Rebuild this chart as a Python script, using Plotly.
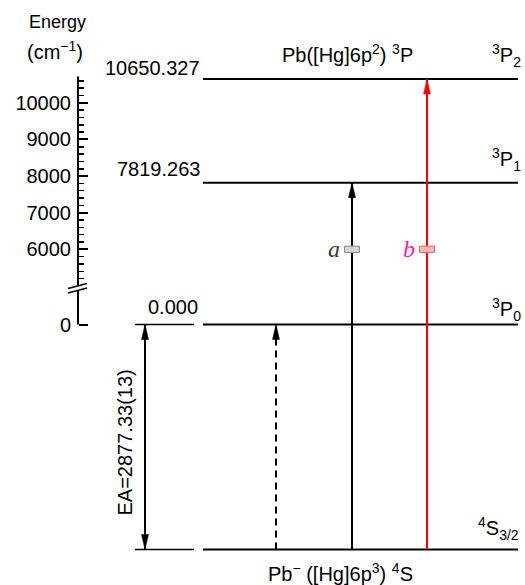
import plotly.graph_objects as go

# ---------------- data ----------------
neutral_energies = [10650.327, 7819.263, 0.000]          # cm^-1, Pb 3P_J levels
neutral_value_labels = ["10650.327", "7819.263", "0.000"]
neutral_terms = ["<sup>3</sup>P<sub>2</sub>", "<sup>3</sup>P<sub>1</sub>", "<sup>3</sup>P<sub>0</sub>"]
anion_energy = -2877.33                                   # Pb- 4S3/2 relative to Pb 3P0
anion_term = "<sup>4</sup>S<sub>3/2</sub>"
ea_label = "EA=2877.33(13)"
neutral_config = "Pb([Hg]6p<sup>2</sup>) <sup>3</sup>P"
anion_config = "Pb<sup>\u2212</sup> ([Hg]6p<sup>3</sup>) <sup>4</sup>S"

axis_major_ticks = [6000, 7000, 8000, 9000, 10000]
axis_major_text = ["6000", "7000", "8000", "9000", "10000"]
axis_minor_ticks = [5200, 5400, 5600, 5800, 6200, 6400, 6600, 6800, 7200, 7400, 7600, 7800,
                    8200, 8400, 8600, 8800, 9200, 9400, 9600, 9800, 10200, 10400, 10600]
lower_ticks = [0]
lower_tick_text = ["0"]

# transitions from the anion ground state
transition_targets = [0.000, 7819.263, 10650.327]
transition_labels = ["", "a", "b"]
break_energy = 6000   # where the a / b break marks sit on the upper scale

# ---------------- layout constants ----------------
W, H = 525, 585
Y_RANGE = [-3163.5, 12807.0]     # upper (broken) scale
Y2_RANGE = [-3331.3, 4149.8]     # lower scale (0 and anion level)
AXIS_X = 78
LEVEL_X = (203, 518)
SHORT_X = (135, 194)
EA_X = 145
TRANS_X = [276, 352, 427]
TRANS_COLORS = ["black", "black", "#ff0000"]
TRANS_DASH = ["7px,5px", "solid", "solid"]
LABEL_COLORS = ["black", "#3a3a3a", "#ff1e96"]
MARK_FILL = ["", "#d4d4d4", "#f6b4b4"]
MARK_LINE = ["", "#8c8c8c", "#e06a6a"]
FONT = "Liberation Sans, Arial, Helvetica, sans-serif"
SERIF = "Liberation Serif, Times New Roman, serif"
UPPER_MIN = 5000


def yref_for(e):
    return "y" if e >= UPPER_MIN else "y2"


def y_to_y2(v):
    f = (v - Y_RANGE[0]) / (Y_RANGE[1] - Y_RANGE[0])
    return Y2_RANGE[0] + f * (Y2_RANGE[1] - Y2_RANGE[0])


def ypx(py):
    return 1 - py / H


fig = go.Figure()
shapes = []
annotations = []


def seg(x0, x1, y0, y1, axis, color="black", width=2, dash="solid"):
    fig.add_trace(go.Scatter(x=[x0, x1], y=[y0, y1], mode="lines",
                             yaxis=axis, hoverinfo="skip",
                             line=dict(color=color, width=width, dash=dash)))


def head(x, y, yref, color, up=True, L=15, hw=3.5):
    s = -1 if up else 1
    shapes.append(dict(type="path", xref="x", yref=yref, xsizemode="pixel", ysizemode="pixel",
                       xanchor=x, yanchor=y,
                       path=f"M0,0 L{-hw},{s*L} L{hw},{s*L} Z",
                       fillcolor=color, line=dict(color=color, width=0.5), layer="above"))


# ---------------- energy levels ----------------
value_shift = [-2, 1, 4.5]
value_right = [202, 202, 200]
term_shift = [7, 6.7, -1.5]
for e, lab, term, vs, vr, ts in zip(neutral_energies, neutral_value_labels, neutral_terms,
                                    value_shift, value_right, term_shift):
    ax = yref_for(e)
    seg(LEVEL_X[0], LEVEL_X[1], e, e, ax)
    if ax == "y2":
        seg(SHORT_X[0], SHORT_X[1], e, e, ax, width=1.6)
    annotations.append(dict(x=vr, y=e, xref="x", yref=ax, text=lab, showarrow=False,
                            xanchor="right", yanchor="bottom", yshift=vs,
                            font=dict(size=20, family=FONT, color="black")))
    annotations.append(dict(x=490, y=e, xref="x", yref=ax, text=term, showarrow=False,
                            xanchor="left", yanchor="bottom", yshift=ts,
                            font=dict(size=20, family=FONT, color="black")))

# anion level
seg(LEVEL_X[0], LEVEL_X[1], anion_energy, anion_energy, "y2")
seg(SHORT_X[0], SHORT_X[1], anion_energy, anion_energy, "y2", width=1.6)
annotations.append(dict(x=476, y=anion_energy, xref="x", yref="y2", text=anion_term, showarrow=False,
                        xanchor="left", yanchor="bottom", yshift=5,
                        font=dict(size=20, family=FONT, color="black")))
annotations.append(dict(x=340, y=anion_energy, xref="x", yref="y2", text=anion_config, showarrow=False,
                        xanchor="center", yanchor="top", yshift=-8.5,
                        font=dict(size=20, family=FONT, color="black")))
annotations.append(dict(x=347.5, y=neutral_energies[0], xref="x", yref="y", text=neutral_config,
                        showarrow=False, xanchor="center", yanchor="bottom", yshift=11,
                        font=dict(size=20, family=FONT, color="black")))

# ---------------- EA double arrow ----------------
seg(EA_X, EA_X, anion_energy, 0.0, "y2")
head(EA_X, 0.0, "y2", "black", up=True)
head(EA_X, anion_energy, "y2", "black", up=False)
annotations.append(dict(x=124, y=anion_energy / 2, xref="x", yref="y2", text=ea_label, showarrow=False,
                        textangle=-90, xanchor="center", yanchor="middle", yshift=-5.5,
                        font=dict(size=20, family=FONT, color="black")))

# ---------------- transitions ----------------
brk_y2 = y_to_y2(break_energy)
for x, tgt, lab, col, dash, lcol, mf, ml in zip(TRANS_X, transition_targets, transition_labels,
                                                TRANS_COLORS, TRANS_DASH, LABEL_COLORS,
                                                MARK_FILL, MARK_LINE):
    ax = yref_for(tgt)
    if ax == "y2":
        seg(x, x, anion_energy, tgt, "y2", color=col, dash=dash)
        head(x, tgt, "y2", col, up=True)
    else:
        seg(x, x, anion_energy, brk_y2, "y2", color=col, dash=dash)
        seg(x, x, break_energy, tgt, "y", color=col, dash=dash)
        head(x, tgt, "y", col, up=True)
        shapes.append(dict(type="rect", xref="x", yref="y", xsizemode="pixel", ysizemode="pixel",
                           xanchor=x, yanchor=break_energy, x0=-7.5, x1=7.5, y0=-3.2, y1=3.2,
                           fillcolor=mf, line=dict(color=ml, width=1), layer="above"))
        annotations.append(dict(x=x - 10, y=break_energy, xref="x", yref="y",
                                text=f"<i>{lab}</i>", showarrow=False,
                                xanchor="right", yanchor="middle", yshift=0,
                                font=dict(size=24, family=SERIF, color=lcol)))

# ---------------- broken energy axis ----------------
shapes.append(dict(type="line", xref="x", yref="y", x0=AXIS_X, x1=AXIS_X, y0=5010, y1=10720,
                   line=dict(color="black", width=2)))
shapes.append(dict(type="line", xref="x", yref="y2", x0=AXIS_X, x1=AXIS_X, y0=0, y1=441,
                   line=dict(color="black", width=2)))
shapes.append(dict(type="line", xref="x", yref="y", x0=68, x1=87, y0=4931, y1=5068,
                   line=dict(color="black", width=1.5)))
shapes.append(dict(type="line", xref="x", yref="y", x0=68, x1=87, y0=4808, y1=4945,
                   line=dict(color="black", width=1.5)))

annotations.append(dict(x=57, y=ypx(22), xref="x", yref="paper", text="Energy", showarrow=False,
                        xanchor="center", yanchor="middle", font=dict(size=18, family=FONT, color="black")))
annotations.append(dict(x=55, y=ypx(65), xref="x", yref="paper", text="(cm<sup>\u22121</sup>)",
                        showarrow=False, xanchor="center", yanchor="bottom",
                        font=dict(size=20, family=FONT, color="black")))

axis_common = dict(anchor="free", position=AXIS_X / W, side="left", showgrid=False, zeroline=False,
                   showline=False, ticks="inside", ticklen=9, tickwidth=2, tickcolor="black",
                   tickfont=dict(size=20, family=FONT, color="black"), automargin=False,
                   fixedrange=True, ticklabelstandoff=7)

fig.update_layout(
    width=W, height=H, autosize=False,
    margin=dict(l=0, r=0, t=0, b=0, pad=0),
    paper_bgcolor="white", plot_bgcolor="white", showlegend=False,
    xaxis=dict(range=[0, W], visible=False, fixedrange=True),
    yaxis=dict(range=Y_RANGE, tickmode="array", tickvals=axis_major_ticks, ticktext=axis_major_text,
               minor=dict(tickmode="array", tickvals=axis_minor_ticks, ticks="inside", ticklen=5,
                          tickwidth=1.5, tickcolor="black", showgrid=False),
               **axis_common),
    yaxis2=dict(range=Y2_RANGE, overlaying="y", tickmode="array", tickvals=lower_ticks,
                ticktext=lower_tick_text, **axis_common),
    shapes=shapes,
    annotations=annotations,
)

fig.write_html("out.html", post_script="document.body.style.margin='0';",
               config={"displayModeBar": False, "staticPlot": True})
